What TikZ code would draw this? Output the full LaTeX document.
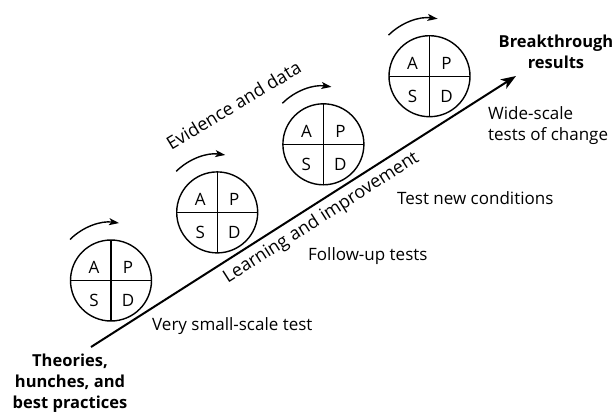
\documentclass[tikz,border=0pt]{standalone}
\usepackage{fontspec}
\setmainfont{Open Sans}
\usetikzlibrary{arrows.meta,calc}
\begin{document}
\begin{tikzpicture}[x=1pt,y=-1pt,
  ring/.style={circle,draw,line width=1.4pt,minimum size=81pt,inner sep=0pt,outer sep=0pt},
  quad/.style={line width=1.4pt},
  letter/.style={font=\fontsize{17}{20}\selectfont,inner sep=0pt},
  cyc/.style={line width=1.4pt,-{Stealth[length=10pt,width=7pt,inset=2.5pt]}},
  mainarrow/.style={line width=2pt,-{Stealth[length=15pt,width=11pt,inset=4pt]}},
  lbl/.style={font=\fontsize{17}{21}\selectfont,inner sep=0pt},
  blbl/.style={font=\bfseries\fontsize{16.5}{21}\selectfont,inner sep=0pt,align=center},
  rlbl/.style={font=\fontsize{18}{21}\selectfont,inner sep=0pt,rotate=32.6}]
\path[use as bounding box] (0,0) rectangle (616,416);
\coordinate (start) at (91,347);
\coordinate (tip) at (516,76);
\draw[mainarrow] (start) -- (tip);
\foreach \n/\x/\y in {1/111/280.5, 2/217.2/212.4, 3/323.4/144.3, 4/429.5/76.2} {
  \node[ring] (c\n) at (\x,\y) {};
  \draw[quad] (c\n.north) -- (c\n.south) (c\n.west) -- (c\n.east);
  \node[letter] (a\n) at ($(c\n)+(-17,-13)$) {A};
  \node[letter] (p\n) at ($(c\n)+(17,-13)$) {P};
  \node[letter] (s\n) at ($(c\n)+(-17,20)$) {S};
  \node[letter] (d\n) at ($(c\n)+(17,20)$) {D};
  \draw[cyc] ($(c\n)+(225:58)$) arc[start angle=225,end angle=278,radius=58];
}
\node[blbl,anchor=north] (theo) at (70,354) {Theories,\\hunches, and\\best practices};
\node[blbl,anchor=north] (break) at (556,35) {Breakthrough\\results};
\node[lbl,anchor=north west,align=left] (wide) at (488,106) {Wide-scale\\tests of change};
\node[lbl,anchor=base west] (vsst) at (152,330) {Very small-scale test};
\node[lbl,anchor=base west] (fut) at (308,260) {Follow-up tests};
\node[lbl,anchor=base west] (tnc) at (397,204) {Test new conditions};
\node[rlbl,anchor=base,rotate=-1.5] (evd) at (237,111) {Evidence and data};
\node[rlbl,anchor=base] (lai) at (324,222) {Learning and improvement};
\end{tikzpicture}
\end{document}
